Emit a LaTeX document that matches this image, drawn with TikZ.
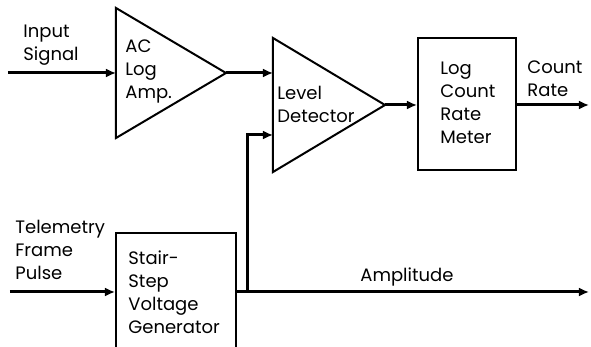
\documentclass[tikz,border=0pt]{standalone}
\usepackage{fontspec}
\setmainfont{Poppins}
\usetikzlibrary{arrows.meta}
\usetikzlibrary{positioning}

\tikzset{
  blk/.style={draw, line width=1pt, inner sep=0pt},
  txt/.style={anchor=north west, inner sep=0pt, align=left, font=\fontsize{9}{11.5}\selectfont},
  sig/.style={line width=1.5pt, -{Latex[length=5pt,width=4.5pt]}},
}

\begin{document}
\begin{tikzpicture}[x=0.5pt, y=-0.5pt]
  \clip (0,0) rectangle (591,347);

  % Amplificador logaritmico
  \draw[line width=1pt] (116,8) coordinate (ampTop) -- (226,73) coordinate (ampOut)
        -- (116,138) coordinate (ampBot) -- cycle;
  \node[txt] (ampTxt) at (125,39) {AC\\Log\\Amp.};

  % Detector de nivel
  \draw[line width=1pt] (273,38) coordinate (lvlTop) -- (385,105) coordinate (lvlOut)
        -- (273,172) coordinate (lvlBot) -- cycle;
  \node[txt] (lvlTxt) at (277,86) {Level\\Detector};

  % Blocos
  \node[blk, minimum width=49pt, minimum height=66pt] (meter) at (467,104) {};
  \node[txt] (meterTxt) at (440,62) {Log\\Count\\Rate\\Meter};
  \node[blk, minimum width=60pt, minimum height=62pt] (stair) at (176,295) {};
  \node[txt] (stairTxt) at (128,250) {Stair-\\Step\\Voltage\\Generator};

  % Rotulos
  \node[txt] (inLbl) at (23,25) {Input\\Signal};
  \node[txt] (telLbl) at (15,220) {Telemetry\\Frame\\Pulse};
  \node[txt] (cntLbl) at (527,60) {Count\\Rate};
  \node[txt] (ampLbl) at (360,267) {Amplitude};

  % Pontas livres
  \coordinate (inStart) at (8,73);
  \coordinate (telStart) at (10,292);
  \coordinate (cntEnd) at (589,105);
  \coordinate (ampEnd) at (589,292);
  \coordinate (tap) at (248,292);
  \coordinate (lvlIn) at (273,135);

  % Ligacoes
  \draw[sig] (inStart) -- (inStart -| ampTop);
  \draw[sig] (ampOut) -- (ampOut -| lvlTop);
  \draw[sig] (lvlOut) -- (lvlOut -| meter.west);
  \draw[sig] (meter.east |- lvlOut) -- (cntEnd);
  \draw[sig] (telStart) -- (telStart -| stair.west);
  \draw[sig] (telStart -| stair.east) -- (ampEnd);
  \draw[sig] (tap) |- (lvlIn);
\end{tikzpicture}
\end{document}
